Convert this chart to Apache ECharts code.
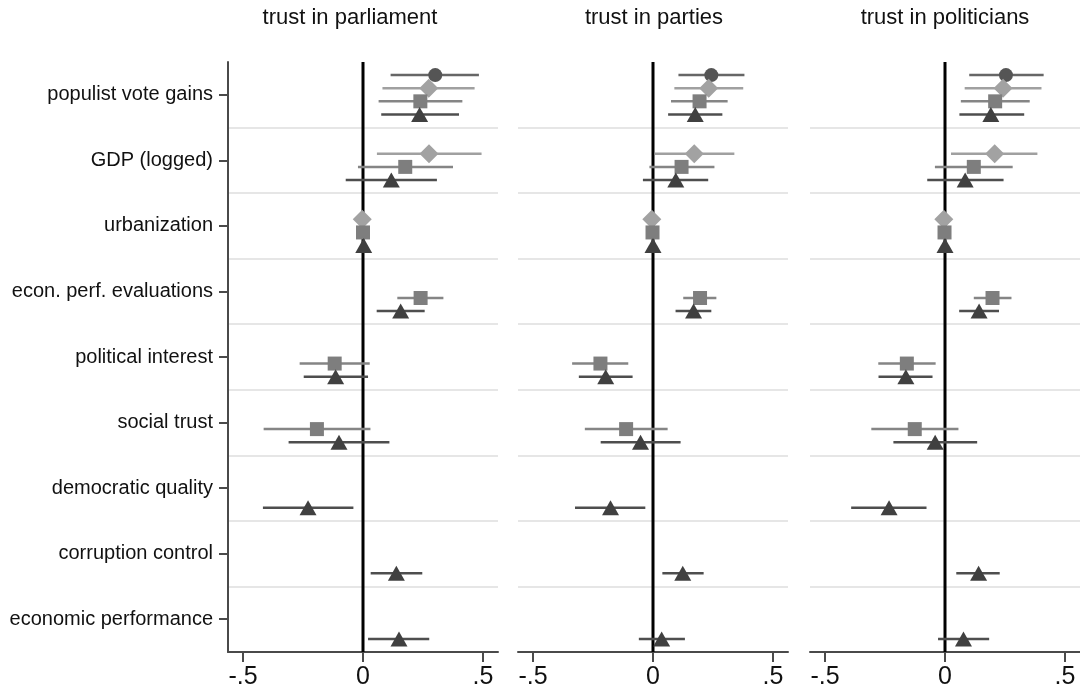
<!DOCTYPE html>
<html>
<head>
<meta charset="utf-8">
<script src="https://cdn.jsdelivr.net/npm/echarts@6/dist/echarts.min.js"></script>
<style>html,body{margin:0;padding:0;background:#fff}#c{width:1080px;height:695px}</style>
</head>
<body>
<div id="c"></div>
<script>
const categories = ['populist vote gains','GDP (logged)','urbanization','econ. perf. evaluations','political interest','social trust','democratic quality','corruption control','economic performance'];
const panelTitles = ['trust in parliament','trust in parties','trust in politicians'];
const xTickValues = [-0.5, 0, 0.5];
const xTickLabels = ['-.5', '0', '.5'];

// each entry: [coefficient, lower CI, upper CI] per category; null = not in model
const parliamentM1 = [[0.301,0.115,0.483], null, null, null, null, null, null, null, null];
const parliamentM2 = [[0.274,0.081,0.465],[0.275,0.058,0.494],[-0.003,-0.006,0.000], null, null, null, null, null, null];
const parliamentM3 = [[0.239,0.065,0.414],[0.176,-0.021,0.375],[0.000,-0.003,0.003],[0.240,0.143,0.335],[-0.118,-0.264,0.028],[-0.192,-0.414,0.031], null, null, null];
const parliamentM4 = [[0.236,0.076,0.400],[0.118,-0.072,0.308],[0.003,0.000,0.006],[0.157,0.057,0.257],[-0.114,-0.247,0.021],[-0.100,-0.310,0.110],[-0.229,-0.417,-0.040],[0.139,0.032,0.247],[0.150,0.021,0.276]];

const partiesM1 = [[0.243,0.106,0.381], null, null, null, null, null, null, null, null];
const partiesM2 = [[0.232,0.089,0.376],[0.172,0.007,0.339],[-0.005,-0.008,-0.002], null, null, null, null, null, null];
const partiesM3 = [[0.194,0.075,0.311],[0.119,-0.015,0.256],[-0.002,-0.005,0.001],[0.196,0.126,0.264],[-0.219,-0.337,-0.103],[-0.112,-0.284,0.061], null, null, null];
const partiesM4 = [[0.176,0.063,0.289],[0.095,-0.042,0.230],[0.000,-0.003,0.003],[0.169,0.094,0.243],[-0.197,-0.309,-0.085],[-0.052,-0.218,0.115],[-0.177,-0.325,-0.032],[0.124,0.039,0.211],[0.036,-0.059,0.133]];

const politiciansM1 = [[0.254,0.101,0.411], null, null, null, null, null, null, null, null];
const politiciansM2 = [[0.242,0.082,0.402],[0.207,0.025,0.385],[-0.005,-0.008,-0.002], null, null, null, null, null, null];
const politiciansM3 = [[0.209,0.066,0.353],[0.120,-0.042,0.282],[-0.002,-0.005,0.001],[0.198,0.120,0.277],[-0.159,-0.278,-0.039],[-0.126,-0.307,0.056], null, null, null];
const politiciansM4 = [[0.191,0.060,0.330],[0.084,-0.074,0.244],[0.000,-0.003,0.003],[0.142,0.059,0.225],[-0.163,-0.277,-0.052],[-0.041,-0.215,0.134],[-0.233,-0.391,-0.077],[0.140,0.047,0.228],[0.077,-0.029,0.184]];

const panels = [
  [parliamentM1, parliamentM2, parliamentM3, parliamentM4],
  [partiesM1, partiesM2, partiesM3, partiesM4],
  [politiciansM1, politiciansM2, politiciansM3, politiciansM4]
];

// styling
const FONT = '"Liberation Sans", Arial, sans-serif';
const modelStyles = [
  {symbol:'circle',  size:14,      fill:'#555555', line:'#666666', offset:-0.3},
  {symbol:'diamond', size:[19,19], fill:'#a2a2a2', line:'#a0a0a0', offset:-0.1},
  {symbol:'rect',    size:14,      fill:'#7e7e7e', line:'#858585', offset: 0.1},
  {symbol:'triangle',size:[17,15], fill:'#404040', line:'#4e4e4e', offset: 0.3}
];
const gridLefts = [228, 518, 810];
const titleCenters = [350, 654, 945];
const gridWidth = 270;
const axisColor = '#4a4a4a';

const grids = [], xAxes = [], yAxes = [], series = [], titles = [];
gridLefts.forEach((left, i) => {
  grids.push({left: left, top: 62, width: gridWidth, height: 590, containLabel: false});
  titles.push({text: panelTitles[i], left: titleCenters[i], top: 7, textAlign: 'center', padding: 0,
    textStyle: {fontFamily: FONT, fontSize: 22, fontWeight: 'normal', color: '#111'}});
  xAxes.push({
    type: 'value', gridIndex: i, min: -0.5625, max: 0.5625,
    axisLine: {show: true, onZero: false, lineStyle: {color: axisColor, width: 2}},
    axisTick: {show: true, customValues: xTickValues, length: 10, lineStyle: {color: axisColor, width: 2}},
    axisLabel: {customValues: xTickValues, margin: 13, fontSize: 25, fontFamily: FONT, color: '#111',
      formatter: v => { const k = xTickValues.findIndex(t => Math.abs(t - v) < 1e-9); return k >= 0 ? xTickLabels[k] : ''; }},
    splitLine: {show: false}
  });
  yAxes.push({
    type: 'category', gridIndex: i, data: categories, inverse: true, boundaryGap: true, position: 'left',
    axisLine: {show: i === 0, onZero: false, lineStyle: {color: axisColor, width: 2}},
    axisTick: {show: i === 0, alignWithLabel: true, interval: 0, length: 9, lineStyle: {color: axisColor, width: 2}},
    axisLabel: {show: i === 0, interval: 0, margin: 15, fontSize: 20, fontFamily: FONT, color: '#111'},
    splitLine: {show: true, interval: 0, showMinLine: false, showMaxLine: false, lineStyle: {color: '#e6e6e6', width: 2}}
  });
  yAxes.push({type: 'value', gridIndex: i, min: -0.5, max: 8.5, inverse: true, show: false,
    axisLine: {onZero: false}, splitLine: {show: false}});
  const vy = i * 2 + 1;
  // zero reference line
  series.push({
    type: 'custom', xAxisIndex: i, yAxisIndex: vy, z: 1, silent: true,
    data: [[0]],
    renderItem: (params, api) => {
      const a = api.coord([0, -0.5]), b = api.coord([0, 8.5]);
      return {type: 'line', shape: {x1: a[0], y1: a[1], x2: b[0], y2: b[1]}, style: {stroke: '#000', lineWidth: 3}};
    }
  });
  panels[i].forEach((model, m) => {
    const st = modelStyles[m];
    const ci = [], pts = [];
    model.forEach((d, c) => {
      if (!d) return;
      ci.push([d[1], d[2], c + st.offset]);
      pts.push([d[0], c + st.offset]);
    });
    series.push({
      type: 'custom', xAxisIndex: i, yAxisIndex: vy, z: 2, silent: true,
      encode: {x: [0, 1], y: 2},
      data: ci,
      renderItem: (params, api) => {
        const y = api.value(2);
        const a = api.coord([api.value(0), y]), b = api.coord([api.value(1), y]);
        return {type: 'line', shape: {x1: a[0], y1: a[1], x2: b[0], y2: b[1]}, style: {stroke: st.line, lineWidth: 2.5}};
      }
    });
    series.push({
      type: 'scatter', xAxisIndex: i, yAxisIndex: vy, z: 2, silent: true,
      symbol: st.symbol, symbolSize: st.size,
      itemStyle: {color: st.fill, opacity: 1},
      data: pts
    });
  });
});

const chart = echarts.init(document.getElementById('c'), null, {renderer: 'canvas'});
chart.setOption({
  animation: false,
  backgroundColor: '#ffffff',
  title: titles,
  grid: grids,
  xAxis: xAxes,
  yAxis: yAxes,
  series: series
});
</script>
</body>
</html>
